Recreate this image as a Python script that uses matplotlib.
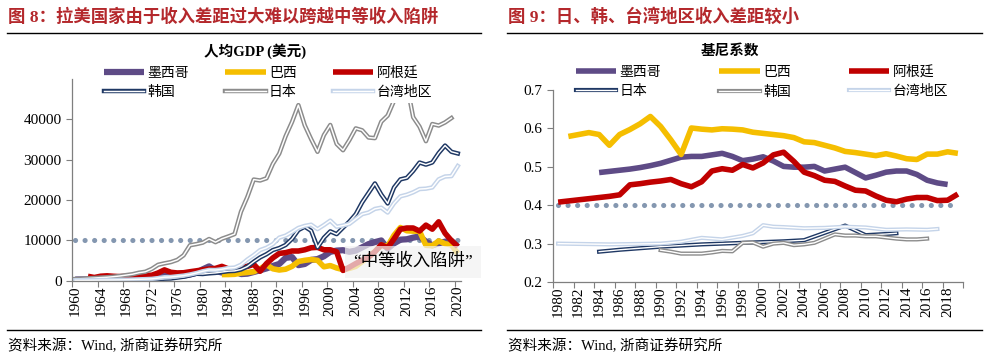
import matplotlib

matplotlib.use("Agg")
import matplotlib.pyplot as plt
import matplotlib.patheffects as pe
from matplotlib.lines import Line2D
import numpy as np

plt.rcParams["font.family"] = ["Liberation Serif", "Noto Sans CJK SC"]

# ---- figure 8: GDP per capita (USD) ----
gdp_years = list(range(1960, 2021))
japan_gdp = [479, 564, 634, 718, 835, 919, 1059, 1229, 1451, 1669, 2038, 2272, 2967, 3998,
             4354, 4659, 5198, 6335, 8821, 9105, 9463, 10361, 9578, 10425, 10984, 11585,
             17112, 20745, 25052, 24813, 25359, 28925, 31465, 35766, 39269, 43440, 38437,
             35022, 31903, 36027, 38532, 33846, 32289, 34808, 37689, 37218, 35434, 35275,
             39339, 40855, 44508, 48168, 48603, 40455, 38109, 34524, 38761, 38387, 39159,
             40247]
korea_gdp = [158, 94, 106, 146, 124, 108, 133, 161, 198, 243, 279, 301, 323, 406, 563, 615,
             830, 1050, 1400, 1780, 1715, 1883, 1993, 2199, 2413, 2482, 2835, 3555, 4749,
             5818, 6610, 7637, 8127, 8885, 10385, 12565, 13403, 12398, 8282, 10672, 12257,
             11561, 13165, 14673, 16496, 19403, 21743, 24086, 21350, 19144, 23087, 25096,
             25467, 27182, 29253, 28737, 29274, 31601, 33447, 31902, 31489]
taiwan_gdp = [160, 150, 170, 190, 210, 220, 240, 270, 310, 350, 400, 450, 520, 700, 920, 980,
              1150, 1320, 1600, 1950, 2390, 2730, 2700, 2880, 3200, 3300, 4000, 5300, 6380,
              7630, 8200, 9100, 10700, 11200, 12100, 13100, 13600, 13900, 12800, 13800, 14900,
              13400, 13700, 14100, 15300, 16500, 16900, 17800, 18100, 16900, 19200, 20900,
              21300, 21900, 22700, 22800, 23100, 25100, 25800, 25900, 28400]
mexico_gdp = [350, 370, 390, 420, 480, 500, 550, 590, 630, 680, 700, 740, 830, 990, 1240, 1470,
              1450, 1300, 1590, 2000, 2870, 3600, 2520, 2080, 2390, 2500, 1700, 1800, 2210,
              2650, 3100, 3700, 4200, 5700, 5900, 3900, 4200, 5200, 5400, 6100, 7200, 7500,
              7600, 7200, 7500, 8300, 9100, 9600, 10000, 8000, 9300, 10200, 10300, 10700,
              11000, 9700, 8800, 9300, 9700, 9900, 8400]
argentina_years = list(range(1962, 2021))
argentina_gdp = [1150, 850, 1170, 1270, 1150, 1070, 1140, 1230, 1320, 1380, 1410, 1980, 2740,
                 2140, 1980, 2030, 2280, 2500, 2750, 2950, 3100, 3600, 3000, 2900, 3400, 3600,
                 4100, 2400, 4300, 5700, 6800, 7000, 7400, 7400, 7700, 8200, 8300, 7700, 7700,
                 7200, 2600, 3400, 4300, 5100, 5900, 7200, 8950, 8200, 10400, 12800, 13080,
                 13080, 12330, 13790, 12790, 14610, 11790, 9960, 8500]
brazil_years = list(range(1983, 2021))
brazil_gdp = [1570, 1580, 1640, 1940, 2090, 2270, 3000, 4000, 3000, 2700, 2900, 3600, 4800,
              5100, 5300, 5100, 3500, 3800, 3200, 2800, 3100, 3600, 4800, 5900, 7300, 8800,
              8600, 11300, 13200, 12400, 12300, 12300, 8800, 8700, 9900, 9200, 8900, 6800]
trap_level = 10000

# ---- figure 9: Gini coefficient ----
mexico_gini_years = list(range(1984, 2019))
mexico_gini = [0.485, 0.488, 0.491, 0.494, 0.498, 0.503, 0.509, 0.517, 0.525, 0.527, 0.527,
               0.531, 0.535, 0.527, 0.516, 0.520, 0.526, 0.515, 0.501, 0.499, 0.499, 0.501,
               0.489, 0.494, 0.499, 0.485, 0.471, 0.478, 0.486, 0.489, 0.489, 0.480, 0.465,
               0.458, 0.454]
brazil_gini_years = list(range(1981, 2020))
brazil_gini = [0.579, 0.584, 0.589, 0.584, 0.556, 0.584, 0.597, 0.612, 0.631, 0.605, 0.570,
               0.532, 0.601, 0.598, 0.596, 0.599, 0.598, 0.596, 0.590, 0.587, 0.584, 0.581,
               0.576, 0.565, 0.563, 0.556, 0.549, 0.540, 0.537, 0.533, 0.529, 0.534, 0.528,
               0.521, 0.519, 0.533, 0.533, 0.539, 0.535]
argentina_gini_years = list(range(1980, 2020))
argentina_gini = [0.408, 0.411, 0.414, 0.417, 0.420, 0.423, 0.427, 0.453, 0.456, 0.460, 0.463,
                  0.467, 0.456, 0.448, 0.461, 0.489, 0.495, 0.491, 0.506, 0.497, 0.510, 0.531,
                  0.538, 0.514, 0.486, 0.477, 0.465, 0.462, 0.450, 0.439, 0.437, 0.424, 0.413,
                  0.409, 0.416, 0.420, 0.420, 0.412, 0.413, 0.429]
japan_gini_years = [1984, 1986, 1988, 1990, 1992, 1994, 1996, 1998, 2000, 2002, 2004, 2006,
                    2008, 2010, 2012, 2013]
japan_gini = [0.279, 0.284, 0.288, 0.292, 0.295, 0.298, 0.300, 0.302, 0.304, 0.306, 0.309,
              0.328, 0.347, 0.322, 0.325, 0.327]
korea_gini_years = list(range(1990, 2017))
korea_gini = [0.283, 0.279, 0.274, 0.274, 0.274, 0.277, 0.281, 0.280, 0.302, 0.303, 0.292,
              0.300, 0.302, 0.296, 0.298, 0.302, 0.313, 0.324, 0.321, 0.321, 0.319, 0.319,
              0.316, 0.313, 0.311, 0.311, 0.313]
taiwan_gini_years = [1980, 1985, 1990, 1992, 1994, 1996, 1998, 1999, 2000, 2001, 2002, 2004,
                     2006, 2008, 2010, 2012, 2014, 2016, 2017]
taiwan_gini = [0.300, 0.298, 0.300, 0.305, 0.315, 0.311, 0.320, 0.327, 0.348, 0.344, 0.343,
               0.340, 0.341, 0.344, 0.342, 0.336, 0.337, 0.336, 0.338]
gini_line = 0.4

MEX = "#5E4B86"
BRA = "#F5BE00"
ARG = "#C00000"
NAVY = "#1F3864"
GRAY = "#8C8C8C"
LIGHT = "#C5D4E9"
DOT = "#8497B0"
RED_TITLE = "#B4282C"


def solid(ax, x, y, color, lw, label):
    return ax.plot(x, y, color=color, lw=lw, solid_capstyle="butt", label=label)[0]


def double(ax, x, y, color, label, lw=3.2):
    fx = [pe.Stroke(linewidth=lw, foreground=color),
          pe.Stroke(linewidth=lw * 0.33, foreground="white")]
    return ax.plot(x, y, color=color, lw=lw, label=label, path_effects=fx)[0]


def style_axes(ax):
    for s in ("top", "right"):
        ax.spines[s].set_visible(False)
    for s in ("left", "bottom"):
        ax.spines[s].set_color("#7F7F7F")
        ax.spines[s].set_linewidth(0.9)
    ax.tick_params(axis="y", direction="out", length=4, color="#7F7F7F", labelsize=11)
    ax.tick_params(axis="x", which="major", direction="out", length=4, color="#7F7F7F",
                   labelbottom=False)
    ax.tick_params(axis="x", which="minor", length=0, labelsize=11, labelrotation=90, pad=3)


fig = plt.figure(figsize=(10, 3.57), dpi=100)

# ---------------- left chart ----------------
ax1 = fig.add_axes([0.072, 0.213, 0.389, 0.567])
h_mex = solid(ax1, gdp_years, mexico_gdp, MEX, 4.5, "墨西哥")
h_bra = solid(ax1, brazil_years, brazil_gdp, BRA, 4.0, "巴西")
h_arg = solid(ax1, argentina_years, argentina_gdp, ARG, 4.0, "阿根廷")
h_kor = double(ax1, gdp_years, korea_gdp, NAVY, "韩国")
h_jap = double(ax1, gdp_years[:-1], japan_gdp, GRAY, "日本")
h_tw = double(ax1, gdp_years, taiwan_gdp, LIGHT, "台湾地区")
ax1.plot([gdp_years[0], gdp_years[-1]], [trap_level, trap_level], color=DOT, lw=3.7,
         linestyle=(0, (0.01, 1.85)), dash_capstyle="round", zorder=1.5)
ax1.set_xlim(1959.5, 2020.5)
ax1.set_ylim(0, 50000)
ax1.set_yticks([0, 10000, 20000, 30000, 40000])
ax1.set_xticks(np.arange(1959.5, 2021, 4))
ax1.set_xticks(np.arange(1960, 2021, 4), minor=True)
ax1.set_xticklabels([str(y) for y in range(1960, 2021, 4)], minor=True)
style_axes(ax1)
ax1.text(2013.0, 4700, "“中等收入陷阱”", fontsize=12.5, ha="center", va="center", zorder=5,
         clip_on=False,
         bbox=dict(boxstyle="square,pad=0.45", facecolor="#F2F2F2", edgecolor="none",
                   alpha=0.7))

fig.legend([h_mex, h_kor, h_bra, h_jap, h_arg, h_tw],
           ["墨西哥", "韩国", "巴西", "日本", "阿根廷", "台湾地区"],
           ncol=3, loc="center", bbox_to_anchor=(0.268, 0.768), fontsize=10,
           frameon=True, facecolor="white", edgecolor="none", framealpha=1,
           handlelength=2.9, handletextpad=0.25, columnspacing=2.6, labelspacing=0.45,
           borderpad=0.3)
fig.text(0.255, 0.857, "人均GDP (美元)", fontsize=10.5, fontweight="bold", ha="center",
         va="center")

# ---------------- right chart ----------------
ax2 = fig.add_axes([0.553, 0.210, 0.410, 0.538])
g_mex = solid(ax2, mexico_gini_years, mexico_gini, MEX, 4.0, "墨西哥")
g_bra = solid(ax2, brazil_gini_years, brazil_gini, BRA, 4.0, "巴西")
g_arg = solid(ax2, argentina_gini_years, argentina_gini, ARG, 4.0, "阿根廷")
g_jap = double(ax2, japan_gini_years, japan_gini, NAVY, "日本", lw=3.0)
g_kor = double(ax2, korea_gini_years, korea_gini, GRAY, "韩国", lw=3.0)
g_tw = double(ax2, taiwan_gini_years, taiwan_gini, LIGHT, "台湾地区", lw=3.0)
ax2.plot([1980, 2019], [gini_line, gini_line], color=DOT, lw=3.7,
         linestyle=(0, (0.01, 1.85)), dash_capstyle="round", zorder=1.5)
ax2.set_xlim(1979.5, 2019.5)
ax2.set_ylim(0.2, 0.7)
ax2.set_yticks([0.2, 0.3, 0.4, 0.5, 0.6, 0.7])
ax2.set_yticklabels(["0.2", "0.3", "0.4", "0.5", "0.6", "0.7"])
ax2.set_xticks(np.arange(1979.5, 2020, 2))
ax2.set_xticks(np.arange(1980, 2019, 2), minor=True)
ax2.set_xticklabels([str(y) for y in range(1980, 2019, 2)], minor=True)
style_axes(ax2)

fig.legend([g_mex, g_jap, g_bra, g_kor, g_arg, g_tw],
           ["墨西哥", "日本", "巴西", "韩国", "阿根廷", "台湾地区"],
           ncol=3, loc="center", bbox_to_anchor=(0.762, 0.770), fontsize=10,
           frameon=True, facecolor="white", edgecolor="none", framealpha=1,
           handlelength=2.9, handletextpad=0.25, columnspacing=4.2, labelspacing=0.45,
           borderpad=0.3)
fig.text(0.730, 0.857, "基尼系数", fontsize=10.5, fontweight="bold", ha="center",
         va="center")

# ---------------- headers / footers ----------------
fig.text(0.008, 0.952, "图 8：拉美国家由于收入差距过大难以跨越中等收入陷阱", fontsize=12.5,
         fontweight="bold", color=RED_TITLE, va="center")
fig.text(0.508, 0.952, "图 9：日、韩、台湾地区收入差距较小", fontsize=12.5,
         fontweight="bold", color=RED_TITLE, va="center")
for x0, x1 in [(0.007, 0.481), (0.507, 0.982)]:
    fig.add_artist(Line2D([x0, x1], [0.908, 0.908], color="black", lw=1.0))
    fig.add_artist(Line2D([x0, x1], [0.076, 0.076], color="black", lw=1.0))
fig.text(0.008, 0.031, "资料来源：Wind, 浙商证券研究所", fontsize=10.5, va="center")
fig.text(0.508, 0.031, "资料来源：Wind, 浙商证券研究所", fontsize=10.5, va="center")

fig.savefig("out.png", dpi=100)
plt.close(fig)
